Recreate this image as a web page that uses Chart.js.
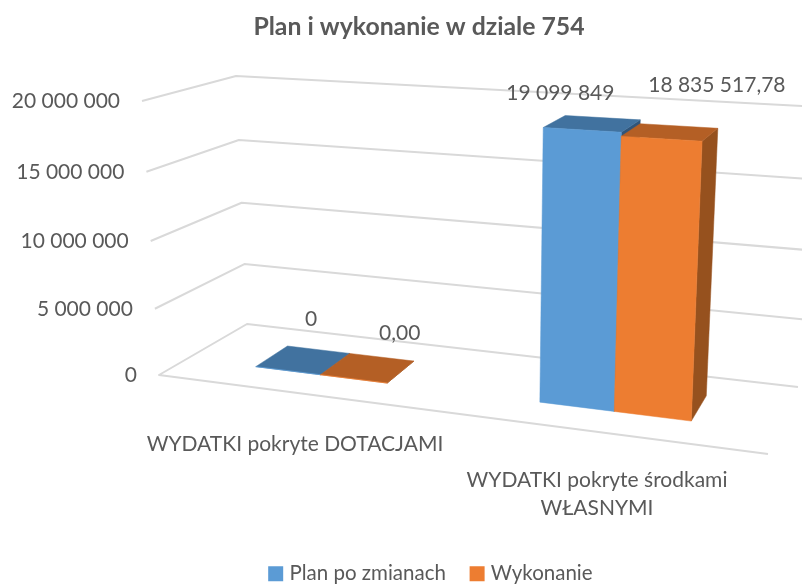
<!DOCTYPE html>
<html lang="pl">
<head>
<meta charset="utf-8">
<style>html,body{margin:0;padding:0;background:#fff}canvas{display:block}</style>
<script src="https://cdn.jsdelivr.net/npm/chart.js@4/dist/chart.umd.js"></script>
</head>
<body>
<canvas id="c" width="802" height="586"></canvas>
<script>
// ---- data ----
const categories = ['WYDATKI pokryte DOTACJAMI', 'WYDATKI pokryte środkami WŁASNYMI'];
const planPoZmianach = [0, 19099849];
const wykonanie = [0, 18835517.78];
const seriesNames = ['Plan po zmianach', 'Wykonanie'];
const seriesDecimals = [0, 2];
const yTickValues = [0, 5000000, 10000000, 15000000, 20000000];
const chartTitle = 'Plan i wykonanie w dziale 754';

// ---- look ----
const FONT = 'Lato, Carlito, sans-serif';
const TEXT = '#595959', GRID = '#d9d9d9';
const FACES = [
  {front:'#5B9BD5', top:'#41729F', side:'#30557A'},
  {front:'#ED7D31', top:'#B45F25', side:'#96511E'}
];
// wall corners in the picture: FL front-left, FR front-right, BL back-left, BR back-right
const FLOOR = {FL:[159,375], FR:[768,454], BL:[247,324], BR:[798,387]};
const TOP   = {FL:[142,101], FR:[783.7,139], BL:[236,76], BR:[814.9,106.8]};
const BAR_D = [0.33, 0.72];      // depth range of the bars
const K_X = 0.132, K_Y = 0.045;  // perspective foreshortening
// label offset from the centre of a bar's top face, [series][category]
const LABEL_OFF = [[[10,-42],[-30.5,-31]],[[34,-36],[48,-48]]];
const CAT_LABEL_POS = [[295,[444]],[597,[480,508]]];
const CAT_LINES = [[categories[0]],['WYDATKI pokryte środkami','WŁASNYMI']];

const fmt = (v,dec=0)=>{
  const [i,f] = Math.abs(v).toFixed(dec).split('.');
  return i.replace(/\B(?=(\d{3})+$)/g,' ') + (f?','+f:'');
};
const lerp = (a,b,t)=>a+(b-a)*t;
const bil = (Q,u,d,i)=>lerp(lerp(Q.FL[i],Q.FR[i],u),lerp(Q.BL[i],Q.BR[i],u),d);
const gx = s=>(1-K_X)*s/(1-K_X*s);
function project(chart,u,d,yPx){
  const a = chart.chartArea, t = (a.bottom-yPx)/(a.bottom-a.top), uu = gx(u);
  return [lerp(bil(FLOOR,uu,d,0),bil(TOP,uu,d,0),t), lerp(bil(FLOOR,uu,d,1),bil(TOP,uu,d,1),t)];
}

class TiltedScale extends Chart.LinearScale {
  getPixelForDecimal(dec){ return super.getPixelForDecimal(dec/(1+K_Y*(1-dec))); }
  _computeLabelItems(ca){
    const items = super._computeLabelItems(ca), h = this.bottom-this.top;
    items.forEach(it=>{
      const t = (this.bottom-it.options.translation[1])/h;
      it.options.translation[0] = lerp(FLOOR.FL[0],TOP.FL[0],t)-22;
      it.options.translation[1] += 0.5;
    });
    return items;
  }
}
TiltedScale.id = 'tilted';
TiltedScale.defaults = Chart.LinearScale.defaults;
Chart.register(TiltedScale);

const poly = (ctx,pts,fill)=>{
  ctx.beginPath(); pts.forEach((p,i)=>i?ctx.lineTo(p[0],p[1]):ctx.moveTo(p[0],p[1])); ctx.closePath();
  ctx.fillStyle=fill; ctx.fill();
  ctx.strokeStyle=fill; ctx.lineWidth=0.5; ctx.stroke();
};

const scene = {
  id:'scene',
  afterLayout(chart){
    chart.legend.left+=31.4; chart.legend.right+=31.4; chart.legend.top+=8; chart.legend.bottom+=8;
    chart.titleBlock.left+=18; chart.titleBlock.right+=18;
  },
  beforeDatasetsDraw(chart){
    const {ctx,chartArea:a,scales:{y}} = chart;
    ctx.save();
    ctx.strokeStyle=GRID; ctx.lineWidth=2; ctx.lineJoin='round';
    y.ticks.forEach(tk=>{
      const py=y.getPixelForValue(tk.value), t=(a.bottom-py)/(a.bottom-a.top);
      const at=(k,i)=>lerp(FLOOR[k][i],TOP[k][i],t);
      ctx.beginPath();
      if(tk.value===0) ctx.moveTo(FLOOR.FR[0],FLOOR.FR[1]), ctx.lineTo(at('FL',0),at('FL',1));
      else ctx.moveTo(at('FL',0),at('FL',1));
      ctx.lineTo(at('BL',0),at('BL',1)); ctx.lineTo(at('BR',0),at('BR',1));
      ctx.stroke();
    });
    ctx.restore();
  },
  beforeDatasetDraw(){ return false; },
  afterDatasetsDraw(chart){
    const {ctx,chartArea:a} = chart, w=a.right-a.left;
    ctx.save();
    chart.data.datasets.forEach((ds,si)=>{
      const f=FACES[si];
      chart.getDatasetMeta(si).data.forEach((el,ci)=>{
        const u0=(el.x-el.width/2-a.left)/w, u1=(el.x+el.width/2-a.left)/w;
        const [d0,d1]=BAR_D;
        const fbl=project(chart,u0,d0,el.base), fbr=project(chart,u1,d0,el.base), bbr=project(chart,u1,d1,el.base);
        const ftl=project(chart,u0,d0,el.y), ftr=project(chart,u1,d0,el.y), btl=project(chart,u0,d1,el.y), btr=project(chart,u1,d1,el.y);
        poly(ctx,[ftr,btr,bbr,fbr],f.side);
        poly(ctx,[ftl,ftr,btr,btl],f.top);
        poly(ctx,[fbl,fbr,ftr,ftl],f.front);
      });
    });
    // value labels
    ctx.fillStyle=TEXT; ctx.font='21px '+FONT; ctx.textAlign='center'; ctx.textBaseline='middle';
    chart.data.datasets.forEach((ds,si)=>{
      chart.getDatasetMeta(si).data.forEach((el,ci)=>{
        const p=project(chart,(el.x-a.left)/w,0.5,el.y), o=LABEL_OFF[si][ci];
        ctx.fillText(fmt(ds.data[ci],seriesDecimals[si]),p[0]+o[0],p[1]+o[1]);
      });
    });
    // category labels
    CAT_LINES.forEach((lines,ci)=>lines.forEach((l,li)=>
      ctx.fillText(l,CAT_LABEL_POS[ci][0],CAT_LABEL_POS[ci][1][li])));
    ctx.restore();
  }
};

new Chart(document.getElementById('c'),{
  type:'bar',
  data:{labels:categories,datasets:[
    {label:seriesNames[0],data:planPoZmianach,backgroundColor:FACES[0].front},
    {label:seriesNames[1],data:wykonanie,backgroundColor:FACES[1].front}
  ]},
  options:{
    responsive:false,animation:false,
    categoryPercentage:0.48,barPercentage:1,
    layout:{padding:0},
    scales:{
      x:{
        grid:{display:false},border:{display:false},ticks:{display:false},
        afterFit:s=>{s.height=211-(s.chart.legend?s.chart.legend.height:0);}
      },
      y:{
        type:'tilted',min:0,max:20000000,
        grid:{display:false},border:{display:false},
        afterBuildTicks:s=>{s.ticks=yTickValues.map(value=>({value}));},
        afterFit:s=>{s.width=142;},
        ticks:{color:TEXT,font:{family:FONT,size:21},padding:6,callback:v=>fmt(v)}
      }
    },
    plugins:{
      title:{display:true,text:chartTitle,color:TEXT,font:{family:FONT,size:24.8,weight:'bold'},padding:{top:12,bottom:59.2}},
      legend:{position:'bottom',labels:{color:TEXT,font:{family:FONT,size:20.5},usePointStyle:true,pointStyle:'rect',boxWidth:7,boxHeight:15,padding:27.75}},
      tooltip:{enabled:false}
    }
  },
  plugins:[scene]
});
</script>
</body>
</html>
